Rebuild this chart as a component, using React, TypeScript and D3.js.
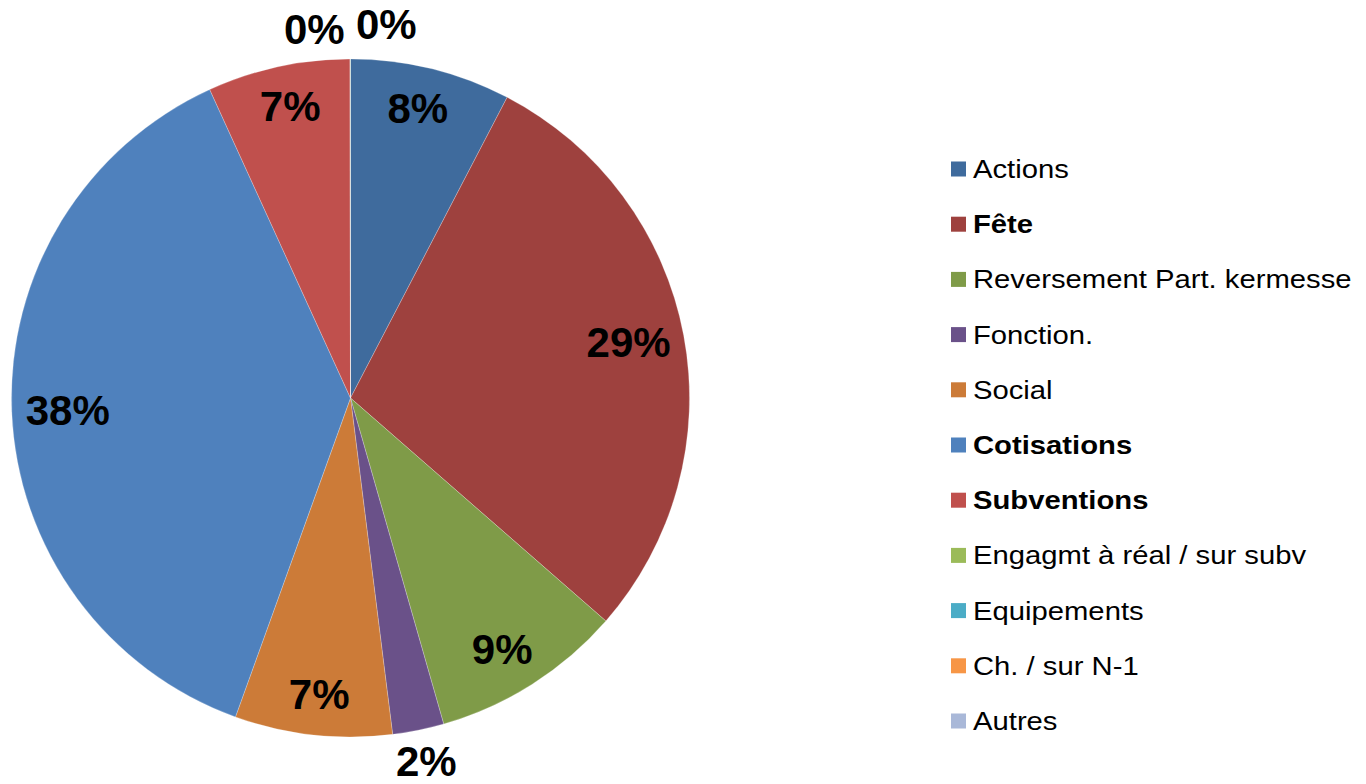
import React from "react";
import * as d3 from "d3";

const categories = [
  "Actions",
  "Fête",
  "Reversement Part. kermesse",
  "Fonction.",
  "Social",
  "Cotisations",
  "Subventions",
  "Engagmt à réal / sur subv",
  "Equipements",
  "Ch. / sur N-1",
  "Autres",
];
const values = [7.65, 28.8, 9.15, 2.45, 7.5, 37.7, 6.8, 0.01, 0.01, 0, 0];
const colors = [
  "#3F6B9D",
  "#9E413E",
  "#7F9B48",
  "#6A5189",
  "#CC7B38",
  "#4F81BD",
  "#C0504D",
  "#9BBB59",
  "#4BACC6",
  "#F79646",
  "#A9B8D8",
];
const boldLegend = [false, true, false, false, false, true, true, false, false, false, false];
const labelOutside = [false, false, false, true, false, false, false, true, true, true, true];

const W = 1366;
const H = 784;
const cx = 350.5;
const cy = 398;
const R = 339;
const FONT = "Arial, 'Liberation Sans', sans-serif";

export default function App() {
  const total = d3.sum(values);
  const pie = d3
    .pie<number>()
    .sort(null)
    .value((d) => d);
  const arcs = pie(values);
  const arcGen = d3.arc<d3.PieArcDatum<number>>().innerRadius(0).outerRadius(R);

  type Lab = { x: number; y: number; text: string; w: number };
  const labels: Lab[] = [];
  const outs: Lab[] = [];
  arcs.forEach((a, i) => {
    if (values[i] <= 0) return;
    const pct = Math.round((values[i] / total) * 100) + "%";
    const w = pct.length === 2 ? 60 : 86;
    const mid = (a.startAngle + a.endAngle) / 2;
    const s = Math.sin(mid);
    const c = -Math.cos(mid);
    if (!labelOutside[i]) {
      labels.push({ x: cx + s * (R - 56), y: cy + c * (R - 41), text: pct, w });
    } else {
      const rr = R + 10;
      const px = s * rr;
      const py = c * rr;
      const bx = px + (s >= 0 ? w / 2 : -w / 2) * Math.abs(s);
      const by = py + (c >= 0 ? 22 : -22);
      outs.push({ x: cx + bx, y: cy + by, text: pct, w });
    }
  });
  outs.sort((a, b) => a.x - b.x);
  for (let k = 1; k < outs.length; k++) {
    const p = outs[k - 1];
    const c = outs[k];
    const gap = 12;
    const overlap = p.x + p.w / 2 + gap - (c.x - c.w / 2);
    if (overlap > 0 && Math.abs(p.y - c.y) < 40) {
      p.x -= overlap / 2;
      c.x += overlap / 2;
      p.y += 2.5;
      c.y -= 2.5;
    }
  }
  labels.push(...outs);

  const legendX = 951;
  const legendY0 = 169;
  const legendStep = 55.2;
  const textX = legendX + 22;

  return (
    <svg width={W} height={H} style={{ position: "absolute", left: 0, top: 0 }}>
      <rect width={W} height={H} fill="#fff" />
      <g transform={`translate(${cx},${cy})`}>
        {arcs.map((a, i) =>
          values[i] > 0 ? (
            <path key={i} d={arcGen(a) || ""} fill={colors[i]} stroke="#fff" strokeWidth={0.4} strokeOpacity={0.6} />
          ) : null
        )}
      </g>
      {labels.map((l, i) => (
        <text
          key={i}
          x={l.x}
          y={l.y}
          textAnchor="middle"
          dominantBaseline="central"
          fontFamily={FONT}
          fontWeight="bold"
          fontSize={42}
          fill="#000"
        >
          {l.text}
        </text>
      ))}
      {categories.map((c, i) => {
        const y = legendY0 + i * legendStep;
        return (
          <g key={c}>
            <rect x={legendX} y={y - 7.5} width={15} height={15} fill={colors[i]} />
            <text
              transform={`translate(${textX},${y}) scale(1.125,1)`}
              dominantBaseline="central"
              fontFamily={FONT}
              fontSize={26}
              fontWeight={boldLegend[i] ? "bold" : "normal"}
              fill="#000"
            >
              {c}
            </text>
          </g>
        );
      })}
    </svg>
  );
}
